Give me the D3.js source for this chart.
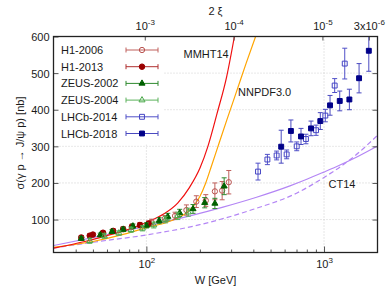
<!DOCTYPE html>
<html>
<head>
<meta charset="utf-8">
<script src="https://cdn.jsdelivr.net/npm/d3@7"></script>
<style>
  body { margin: 0; background: #fff; }
  text { font-family: "Liberation Sans", Arial, sans-serif; fill: #1a1a1a; }
</style>
</head>
<body>
<div id="chart"></div>
<script>
// ---- data ----
// W [GeV], sigma [nb], error [nb]
const h1_2006_W     = [107, 127, 145, 168, 191, 216, 243, 267, 291];
const h1_2006_sigma = [93, 102, 110, 126, 149, 152, 177, 179, 202];
const h1_2006_err   = [8, 9, 10, 14, 16, 16, 23, 25, 32];

const h1_2013_W     = [43, 48, 50, 57, 65, 74, 83, 92, 103];
const h1_2013_sigma = [51, 56, 59, 64, 69, 74, 81, 85, 89];
const h1_2013_err   = [5, 5, 5, 5, 6, 6, 6, 7, 7];

const zeus_2002_W     = [43, 55, 64, 74, 84, 100, 118, 132, 154, 183, 213, 243, 274];
const zeus_2002_sigma = [48, 58, 67, 73, 82, 84, 97, 108, 118, 129, 146, 144, 191];
const zeus_2002_err   = [5, 5, 5, 6, 6, 7, 8, 9, 10, 12, 14, 14, 23];

const zeus_2004_W     = [48, 58, 70, 82, 95, 110, 128, 150, 172];
const zeus_2004_sigma = [42, 55, 63, 72, 76, 85, 100, 110, 120];
const zeus_2004_err   = [7, 6, 6, 7, 7, 8, 9, 10, 11];

const lhcb_2014_W     = [425, 480, 541, 616, 702, 791, 902, 1017, 1148, 1308];
const lhcb_2014_sigma = [231, 264, 275, 278, 300, 320, 344, 384, 466, 526];
const lhcb_2014_err   = [23, 14, 12, 12, 12, 13, 14, 17, 19, 42];

const lhcb_2018_W     = [574, 651, 742, 845, 953, 1081, 1226, 1389, 1575, 1787];
const lhcb_2018_sigma = [299, 342, 327, 349, 369, 412, 424, 428, 486, 561];
const lhcb_2018_err   = [45, 30, 22, 20, 23, 27, 27, 28, 40, 56];

// theory curves: [W, sigma]
const mmht14   = [[30, 22], [45, 40], [60, 56], [80, 74], [100, 92], [125, 115], [150, 145], [175, 188], [200, 240], [222, 300], [250, 390], [283, 490], [313, 600]];
const nnpdf30  = [[30, 24], [50, 40], [75, 60], [100, 78], [130, 92], [150, 104], [170, 120], [185, 138], [200, 163], [215, 198], [232, 245], [253, 300], [285, 375], [322, 450], [365, 528], [412, 600]];
const ct14     = [[30, 29], [54, 54], [100, 82], [176, 110], [270, 134], [417, 161], [643, 192], [800, 210], [990, 229], [1230, 249], [1530, 271], [2000, 301]];
const ct14_alt = [[30, 22], [50, 38], [100, 58], [200, 86], [400, 128], [700, 172], [1000, 215], [1500, 275], [2000, 330]];

// axes
const yTicks = [100, 200, 300, 400, 500, 600];
const xMajor = [100, 1000];
const xMinor = [40, 50, 60, 70, 80, 90, 200, 300, 400, 500, 600, 700, 800, 900];
const xTickLabels = [["10", "2"], ["10", "3"]];
const topTicks = [1e-3, 1e-4, 1e-5, 3e-6];
const topTickLabels = [["10", "-3"], ["10", "-4"], ["10", "-5"], ["3x10", "-6"]];
const M_JPSI = 3.097; // GeV, 2 xi = M^2 / W^2

// ---- layout ----
const margin = { top: 36.5, right: 12.5, bottom: 36.5, left: 53.5 };
const width = 390 - margin.left - margin.right;
const height = 289 - margin.top - margin.bottom;

const svg = d3.select("#chart")
    .append("svg")
    .attr("width", 390)
    .attr("height", 289)
    .append("g")
    .attr("transform", "translate(" + margin.left + "," + margin.top + ")");

const x = d3.scaleLog().domain([30, 2000]).range([0, width]);
const y = d3.scaleLinear().domain([10, 600]).range([height, 0]);
const xi = d3.scaleLog()
    .domain([M_JPSI * M_JPSI / (30 * 30), M_JPSI * M_JPSI / (2000 * 2000)])
    .range([0, width]);

svg.append("clipPath").attr("id", "plotclip")
    .append("rect").attr("width", width).attr("height", height);

// grid
const grid = svg.append("g").attr("stroke", "#c4c4c4").attr("stroke-dasharray", "1,2").attr("stroke-width", 0.8);
grid.selectAll(".gx").data(xMajor).enter().append("line")
    .attr("x1", d => x(d)).attr("x2", d => x(d)).attr("y1", 0).attr("y2", height);
grid.selectAll(".gy").data(yTicks.slice(0, -1)).enter().append("line")
    .attr("x1", 0).attr("x2", width).attr("y1", d => y(d)).attr("y2", d => y(d));

// legend box (opaque)
svg.append("rect").attr("x", 1).attr("y", 1).attr("width", 109).attr("height", 107).attr("fill", "#fff");

// theory curves
const line = d3.line().x(d => x(d[0])).y(d => y(d[1])).curve(d3.curveMonotoneX);
const curves = svg.append("g").attr("clip-path", "url(#plotclip)").attr("fill", "none").attr("stroke-width", 1.2);
curves.append("path").datum(ct14_alt).attr("d", line).attr("stroke", "#b486f5").attr("stroke-dasharray", "5,3");
curves.append("path").datum(ct14).attr("d", line).attr("stroke", "#b486f5");
curves.append("path").datum(nnpdf30).attr("d", line).attr("stroke", "#ffa500");
curves.append("path").datum(mmht14).attr("d", line).attr("stroke", "#f01010");

// curve labels
svg.append("text").attr("x", 130).attr("y", 21).style("font-size", "11px").text("MMHT14");
svg.append("text").attr("x", 184.5).attr("y", 59).style("font-size", "11px").text("NNPDF3.0");
svg.append("text").attr("x", 275).attr("y", 151).style("font-size", "11px").text("CT14");

// data series
const series = [
    { name: "H1-2006", W: h1_2006_W, s: h1_2006_sigma, e: h1_2006_err, shape: d3.symbolCircle, size: 22, filled: false, color: "#b9524f", bar: "#c0605c" },
    { name: "H1-2013", W: h1_2013_W, s: h1_2013_sigma, e: h1_2013_err, shape: d3.symbolCircle, size: 24, filled: true, color: "#9a0000", bar: "#b03030" },
    { name: "ZEUS-2002", W: zeus_2002_W, s: zeus_2002_sigma, e: zeus_2002_err, shape: d3.symbolTriangle, size: 16, filled: true, color: "#006000", bar: "#2f8a2f" },
    { name: "ZEUS-2004", W: zeus_2004_W, s: zeus_2004_sigma, e: zeus_2004_err, shape: d3.symbolTriangle, size: 16, filled: false, color: "#4aa84a", bar: "#5cb25c" },
    { name: "LHCb-2014", W: lhcb_2014_W, s: lhcb_2014_sigma, e: lhcb_2014_err, shape: d3.symbolSquare, size: 24, filled: false, color: "#4444c4", bar: "#5050c8" },
    { name: "LHCb-2018", W: lhcb_2018_W, s: lhcb_2018_sigma, e: lhcb_2018_err, shape: d3.symbolSquare, size: 24, filled: true, color: "#000088", bar: "#4a4ac0" }
];

function drawMarker(g, sr, cx, cy) {
    g.append("path")
        .attr("transform", "translate(" + cx + "," + cy + ")")
        .attr("d", d3.symbol().type(sr.shape).size(sr.size))
        .attr("fill", sr.filled ? sr.color : "none")
        .attr("stroke", sr.color)
        .attr("stroke-width", 1);
}

const pts = svg.append("g").attr("clip-path", "url(#plotclip)");
series.forEach(sr => {
    const g = pts.append("g");
    sr.W.forEach((w, i) => {
        const cx = x(w), lo = y(sr.s[i] - sr.e[i]), hi = y(sr.s[i] + sr.e[i]);
        g.append("line").attr("x1", cx).attr("x2", cx).attr("y1", lo).attr("y2", hi)
            .attr("stroke", sr.bar).attr("stroke-width", 1);
        [lo, hi].forEach(yy => g.append("line")
            .attr("x1", cx - 2.5).attr("x2", cx + 2.5).attr("y1", yy).attr("y2", yy)
            .attr("stroke", sr.bar).attr("stroke-width", 1));
        drawMarker(g, sr, cx, y(sr.s[i]));
    });
});

// legend
const legend = svg.append("g").attr("class", "legend");
series.forEach((sr, i) => {
    const ly = 13.5 + i * 16.7;
    legend.append("text").attr("x", 7.5).attr("y", ly + 4).style("font-size", "11px").text(sr.name);
    legend.append("line").attr("x1", 72.5).attr("x2", 104.5).attr("y1", ly).attr("y2", ly)
        .attr("stroke", sr.bar).attr("stroke-width", 1);
    [72.5, 104.5].forEach(lx => legend.append("line")
        .attr("x1", lx).attr("x2", lx).attr("y1", ly - 2.5).attr("y2", ly + 2.5)
        .attr("stroke", sr.bar).attr("stroke-width", 1));
    drawMarker(legend, sr, 88.5, ly);
});

// axes
function superLabel(sel, labels) {
    sel.each(function (d, i) {
        const t = d3.select(this).text("");
        t.append("tspan").text(labels[i][0]);
        t.append("tspan").attr("dy", -5).style("font-size", "8px").text(labels[i][1]);
    });
}

svg.append("g").attr("transform", "translate(0," + height + ")")
    .call(d3.axisBottom(x).tickValues(xMinor).tickSize(-3).tickFormat(""))
    .call(g => g.select(".domain").remove());
const xb = svg.append("g").attr("transform", "translate(0," + height + ")")
    .call(d3.axisBottom(x).tickValues(xMajor).tickSize(-6).tickSizeOuter(0));
xb.select(".domain").remove();
xb.selectAll("text").attr("y", 15).attr("dy", 0).style("font-size", "11px")
    .call(superLabel, xTickLabels);

const xt = svg.append("g")
    .call(d3.axisTop(xi).tickValues(topTicks).tickSize(-4).tickSizeOuter(0));
xt.select(".domain").remove();
xt.selectAll("text").attr("y", -6.5).attr("dy", 0).style("font-size", "11px")
    .call(superLabel, topTickLabels);

const yl = svg.append("g")
    .call(d3.axisLeft(y).tickValues(yTicks).tickSize(-5).tickPadding(4).tickSizeOuter(0));
yl.select(".domain").remove();
yl.selectAll("text").attr("dy", "0.36em").style("font-size", "11px");

svg.append("g").attr("transform", "translate(" + width + ",0)")
    .call(d3.axisRight(y).tickValues(yTicks.slice(0, -1)).tickSize(-5).tickFormat("").tickSizeOuter(0))
    .call(g => g.select(".domain").remove());

svg.selectAll(".tick line").attr("stroke", "#555");

// frame
svg.append("rect").attr("width", width).attr("height", height)
    .attr("fill", "none").attr("stroke", "#222").attr("stroke-width", 1.3);

// axis titles
svg.append("text").attr("x", width / 2).attr("y", height + 31.5)
    .style("text-anchor", "middle").style("font-size", "11px").text("W [GeV]");
svg.append("text").attr("x", width / 2).attr("y", -21.5)
    .style("text-anchor", "middle").style("font-size", "11px").text("2 ξ");
svg.append("text").attr("transform", "rotate(-90)")
    .attr("x", -(143 - margin.top)).attr("y", -30)
    .style("text-anchor", "middle").style("font-size", "11px").text("σ(γ p → J/ψ p) [nb]");
</script>
</body>
</html>
